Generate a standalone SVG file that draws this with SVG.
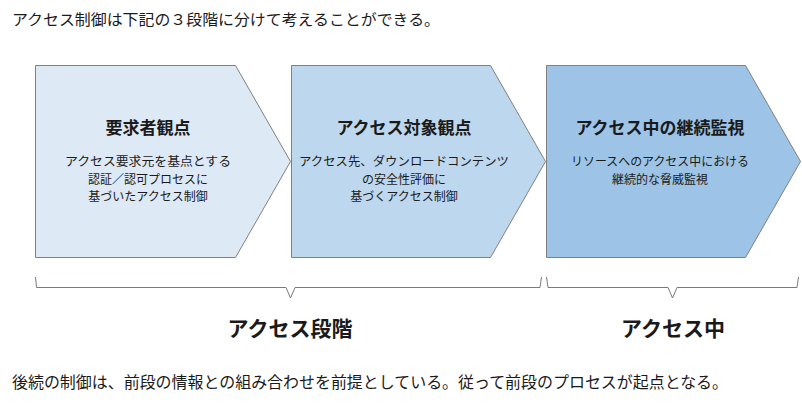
<svg xmlns="http://www.w3.org/2000/svg" width="802" height="404" viewBox="0 0 802 404">
<style>
text{font-family:"Noto Sans CJK JP","Noto Sans",sans-serif;fill:#1a1a1a}
.t{font-size:17px;font-weight:bold;text-anchor:middle}
.b{font-size:12px;text-anchor:middle}
.h{font-size:21px;font-weight:bold;text-anchor:middle}
.s{fill:none;stroke:#7a7a7a;stroke-width:1}
.shape{stroke:#808080;stroke-width:1}
</style>
<rect width="802" height="404" fill="#ffffff"/>
<text x="12" y="25" font-size="15" textLength="428" lengthAdjust="spacingAndGlyphs">アクセス制御は下記の３段階に分けて考えることができる。</text>
<g id="node1">
<polygon class="shape" points="35.5,65.5 235.5,65.5 290.5,161.5 235.5,257.5 35.5,257.5" fill="#dee9f6"/>
<text class="t" x="148" y="134">要求者観点</text>
<text class="b" x="148" y="166" textLength="166" lengthAdjust="spacingAndGlyphs">アクセス要求元を基点とする</text>
<text class="b" x="148" y="183.5">認証／認可プロセスに</text>
<text class="b" x="148" y="201">基づいたアクセス制御</text>
</g>
<g id="node2">
<polygon class="shape" points="291.5,65.5 490.5,65.5 545.5,161.5 490.5,257.5 291.5,257.5" fill="#bdd7ee"/>
<text class="t" x="404" y="134">アクセス対象観点</text>
<text class="b" x="404" y="166" textLength="210" lengthAdjust="spacingAndGlyphs">アクセス先、ダウンロードコンテンツ</text>
<text class="b" x="404" y="183.5">の安全性評価に</text>
<text class="b" x="404" y="201">基づくアクセス制御</text>
</g>
<g id="node3">
<polygon class="shape" points="546.5,65.5 745.5,65.5 800.5,161.5 745.5,257.5 546.5,257.5" fill="#9dc3e6"/>
<text class="t" x="660" y="134">アクセス中の継続監視</text>
<text class="b" x="660" y="166" textLength="178" lengthAdjust="spacingAndGlyphs">リソースへのアクセス中における</text>
<text class="b" x="660" y="183.5">継続的な脅威監視</text>
</g>
<g id="connectors">
<path class="s" d="M35.5,277 L36.5,287.5 L286,287.5 L290.5,298 L295,287.5 L540,287.5 L541.5,277"/>
<path class="s" d="M546.5,277 L548,287.5 L668,287.5 L672.5,298 L677,287.5 L797,287.5 L798.5,277"/>
</g>
<text class="h" x="290" y="336">アクセス段階</text>
<text class="h" x="673" y="336">アクセス中</text>
<text x="12" y="388" font-size="16" textLength="716" lengthAdjust="spacingAndGlyphs">後続の制御は、前段の情報との組み合わせを前提としている。従って前段のプロセスが起点となる。</text>
</svg>
